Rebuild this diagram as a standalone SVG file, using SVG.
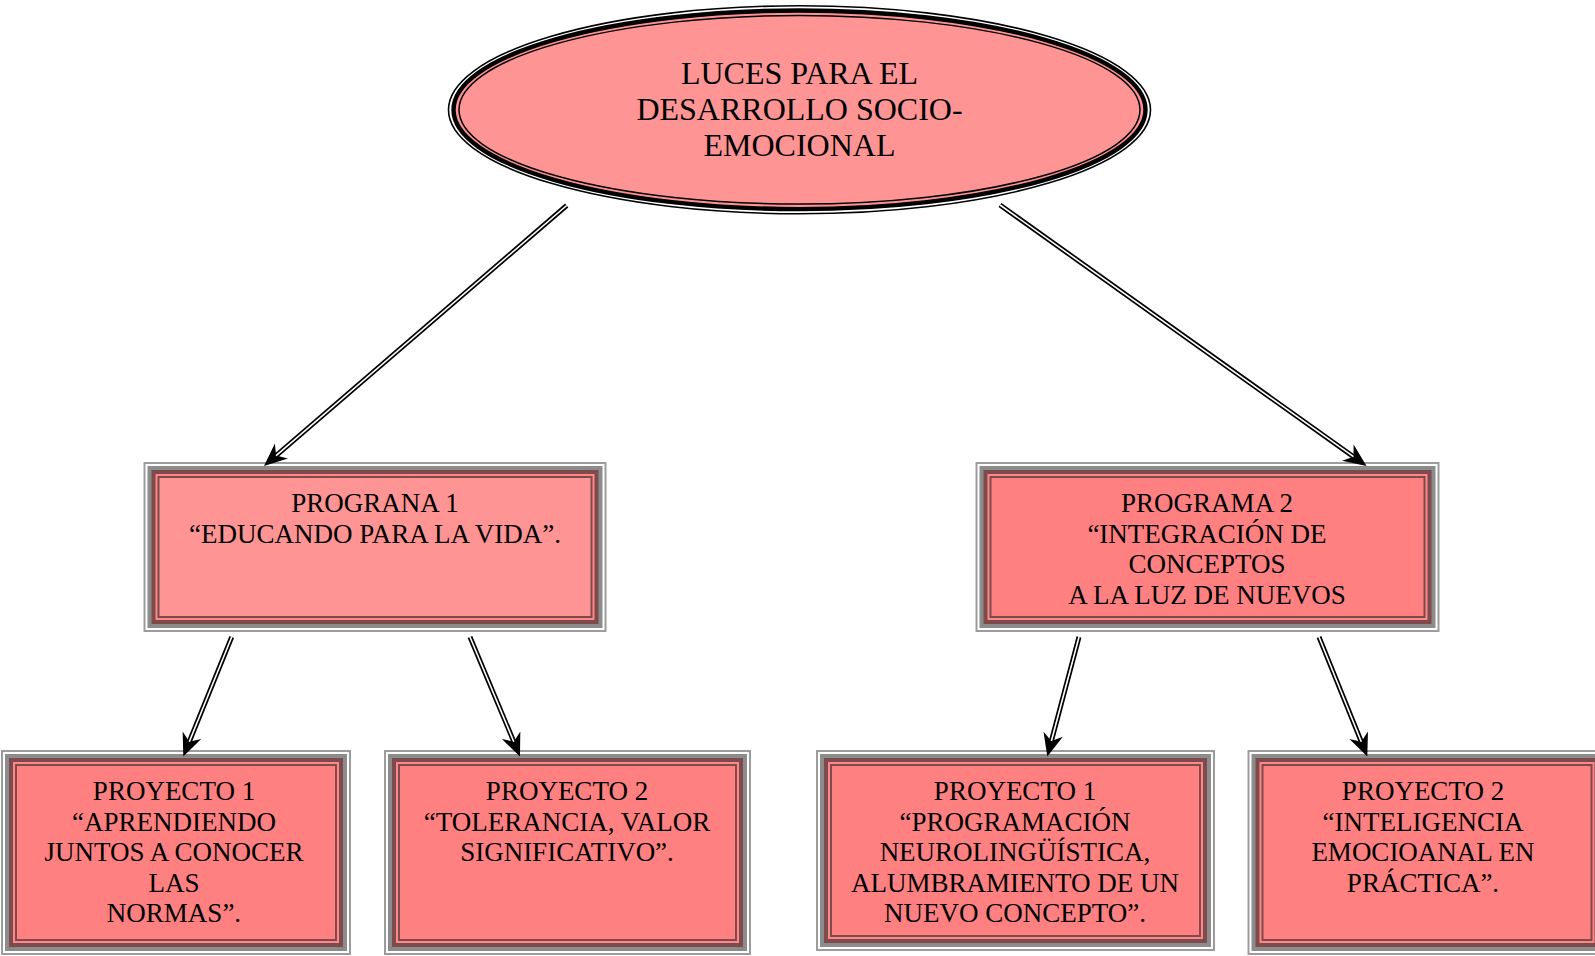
<svg xmlns="http://www.w3.org/2000/svg" width="1595" height="956" viewBox="0 0 1595 956">
<style>
  text { font-family: "Liberation Serif", "Times New Roman", serif; fill: #000; text-anchor: middle; }
  .t1 { font-size: 32px; }
  .t2 { font-size: 27px; }
  .g1 { fill: #9c9c9c; }
  .wh { fill: #ffffff; }
  .g2 { fill: #8c8c8c; }
  .br { fill: #7d4b4b; }
  .pk { fill: #ff8787; }
  .fA { fill: #ff9494; }
  .fB { fill: #ff8080; }
  .lnB { stroke: #000; stroke-width: 5; fill: none; }
  .lnW { stroke: #fff; stroke-width: 1.6; fill: none; }
</style>
<defs>
  <marker id="ah" markerUnits="userSpaceOnUse" markerWidth="40" markerHeight="30" viewBox="-10 -15 30 30" refX="0" refY="0" orient="auto">
    <path d="M16,0 L-7,-10 L0,0 L-7,10 Z" fill="#000"/>
  </marker>
</defs>
<rect x="0" y="0" width="1595" height="956" fill="#fff"/>

<g id="root">
  <ellipse cx="799.5" cy="109.8" rx="351" ry="104" fill="#fff" stroke="#000" stroke-width="1.6"/>
  <ellipse cx="799.5" cy="109.8" rx="346" ry="99.3" fill="#ff9393" stroke="#000" stroke-width="4.4"/>
  <ellipse cx="799.5" cy="109.8" rx="340.5" ry="94.3" fill="#ff9494" stroke="#000" stroke-width="1.5"/>
  <text class="t1" x="799.5" y="83.5">LUCES PARA EL</text>
  <text class="t1" x="799.5" y="119.5">DESARROLLO SOCIO-</text>
  <text class="t1" x="799.5" y="155.5">EMOCIONAL</text>
</g>

<g id="programa1">
  <rect class="g1" x="143.5" y="462" width="463" height="170"/>
  <rect class="wh" x="145.5" y="464" width="459" height="166"/>
  <rect class="g2" x="147.5" y="466" width="455" height="162"/>
  <rect class="br" x="151.5" y="470" width="447" height="154"/>
  <rect class="pk" x="155.5" y="474" width="439" height="146"/>
  <rect class="br" x="157.5" y="476" width="435" height="142"/>
  <rect class="fA" x="159.5" y="478" width="431" height="138"/>
  <text class="t2" x="375" y="512">PROGRANA 1</text>
  <text class="t2" x="375" y="542.7">“EDUCANDO PARA LA VIDA”.</text>
</g>

<g id="programa2">
  <rect class="g1" x="975.5" y="462" width="464" height="170"/>
  <rect class="wh" x="977.5" y="464" width="460" height="166"/>
  <rect class="g2" x="979.5" y="466" width="456" height="162"/>
  <rect class="br" x="983.5" y="470" width="448" height="154"/>
  <rect class="pk" x="987.5" y="474" width="440" height="146"/>
  <rect class="br" x="989.5" y="476" width="436" height="142"/>
  <rect class="fB" x="991.5" y="478" width="432" height="138"/>
  <text class="t2" x="1207" y="512">PROGRAMA 2</text>
  <text class="t2" x="1207" y="542.7">“INTEGRACIÓN DE</text>
  <text class="t2" x="1207" y="573.3">CONCEPTOS</text>
  <text class="t2" x="1207" y="603.9">A LA LUZ DE NUEVOS</text>
</g>

<g id="proyecto1a">
  <rect class="g1" x="1" y="750" width="350" height="205"/>
  <rect class="wh" x="3" y="752" width="346" height="201"/>
  <rect class="g2" x="5" y="754" width="342" height="197"/>
  <rect class="br" x="9" y="758" width="334" height="189"/>
  <rect class="pk" x="13" y="762" width="326" height="181"/>
  <rect class="br" x="15" y="764" width="322" height="177"/>
  <rect class="fB" x="17" y="766" width="318" height="173"/>
  <text class="t2" x="174" y="800">PROYECTO 1</text>
  <text class="t2" x="174" y="830.6">“APRENDIENDO</text>
  <text class="t2" x="174" y="861.2">JUNTOS A CONOCER</text>
  <text class="t2" x="174" y="891.8">LAS</text>
  <text class="t2" x="174" y="922.4">NORMAS”.</text>
</g>

<g id="proyecto2a">
  <rect class="g1" x="384" y="750" width="367" height="205"/>
  <rect class="wh" x="386" y="752" width="363" height="201"/>
  <rect class="g2" x="388" y="754" width="359" height="197"/>
  <rect class="br" x="392" y="758" width="351" height="189"/>
  <rect class="pk" x="396" y="762" width="343" height="181"/>
  <rect class="br" x="398" y="764" width="339" height="177"/>
  <rect class="fB" x="400" y="766" width="335" height="173"/>
  <text class="t2" x="567" y="800">PROYECTO 2</text>
  <text class="t2" x="567" y="830.6">“TOLERANCIA, VALOR</text>
  <text class="t2" x="567" y="861.2">SIGNIFICATIVO”.</text>
</g>

<g id="proyecto1b">
  <rect class="g1" x="816" y="750" width="399" height="201"/>
  <rect class="wh" x="818" y="752" width="395" height="197"/>
  <rect class="g2" x="820" y="754" width="391" height="193"/>
  <rect class="br" x="824" y="758" width="383" height="185"/>
  <rect class="pk" x="828" y="762" width="375" height="177"/>
  <rect class="br" x="830" y="764" width="371" height="173"/>
  <rect class="fB" x="832" y="766" width="367" height="169"/>
  <text class="t2" x="1015" y="800">PROYECTO 1</text>
  <text class="t2" x="1015" y="830.6">“PROGRAMACIÓN</text>
  <text class="t2" x="1015" y="861.2">NEUROLINGÜÍSTICA,</text>
  <text class="t2" x="1015" y="891.8">ALUMBRAMIENTO DE UN</text>
  <text class="t2" x="1015" y="922.4">NUEVO CONCEPTO”.</text>
</g>

<g id="proyecto2b">
  <rect class="g1" x="1247.5" y="750" width="359" height="205"/>
  <rect class="wh" x="1249.5" y="752" width="355" height="201"/>
  <rect class="g2" x="1251.5" y="754" width="351" height="197"/>
  <rect class="br" x="1255.5" y="758" width="343" height="189"/>
  <rect class="pk" x="1259.5" y="762" width="335" height="181"/>
  <rect class="br" x="1261.5" y="764" width="331" height="177"/>
  <rect class="fB" x="1263.5" y="766" width="327" height="173"/>
  <text class="t2" x="1423" y="800">PROYECTO 2</text>
  <text class="t2" x="1423" y="830.6">“INTELIGENCIA</text>
  <text class="t2" x="1423" y="861.2">EMOCIOANAL EN</text>
  <text class="t2" x="1423" y="891.8">PRÁCTICA”.</text>
</g>

<g id="connectors">
  <path class="lnB" d="M566.7,205.5 L276.1,455.6" marker-end="url(#ah)"/>
  <path class="lnW" d="M566.7,205.5 L276.1,455.6"/>
  <path class="lnB" d="M1000,205 L1353.5,456.7" marker-end="url(#ah)"/>
  <path class="lnW" d="M1000,205 L1353.5,456.7"/>
  <path class="lnB" d="M231.7,637 L189.3,741.7" marker-end="url(#ah)"/>
  <path class="lnW" d="M231.7,637 L189.3,741.7"/>
  <path class="lnB" d="M470,637 L513.8,741.7" marker-end="url(#ah)"/>
  <path class="lnW" d="M470,637 L513.8,741.7"/>
  <path class="lnB" d="M1079,637 L1051.4,741" marker-end="url(#ah)"/>
  <path class="lnW" d="M1079,637 L1051.4,741"/>
  <path class="lnB" d="M1319,637 L1361.3,741.7" marker-end="url(#ah)"/>
  <path class="lnW" d="M1319,637 L1361.3,741.7"/>
</g>
</svg>
